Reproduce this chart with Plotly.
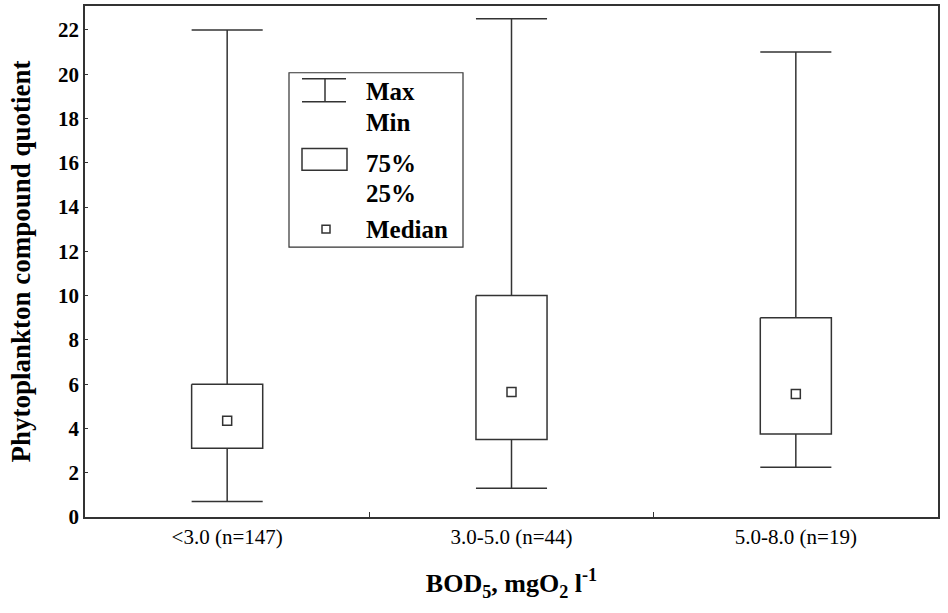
import plotly.graph_objects as go

categories = ["<3.0 (n=147)", "3.0-5.0 (n=44)", "5.0-8.0 (n=19)"]
q_min = [0.7, 1.3, 2.25]
q25 = [3.1, 3.5, 3.75]
median = [4.35, 5.65, 5.55]
q75 = [6.0, 10.0, 9.0]
q_max = [22.0, 22.5, 21.0]
y_ticks = list(range(0, 23, 2))

HALF = 0.125  # half box width in category units
LINE = dict(color="#333333", width=1.5)
SERIF = "Liberation Serif, Times New Roman, serif"

fig = go.Figure()
for i, cat in enumerate(categories):
    l, r = i - HALF, i + HALF
    xs = [l, r, None, i, i, None, l, r, r, l, l, None, i, i, None, l, r]
    ys = [q_max[i], q_max[i], None, q_max[i], q75[i], None,
          q75[i], q75[i], q25[i], q25[i], q75[i], None,
          q25[i], q_min[i], None, q_min[i], q_min[i]]
    fig.add_trace(go.Scatter(x=xs, y=ys, mode="lines", line=LINE,
                             showlegend=False, hoverinfo="skip"))
fig.add_trace(go.Scatter(x=list(range(len(categories))), y=median, mode="markers",
                         marker=dict(symbol="square-open", size=9,
                                     line=dict(color="#333333", width=1.5), color="#333333"),
                         showlegend=False))

fig.update_layout(
    width=948, height=613,
    margin=dict(l=85, r=10, t=4, b=96),
    paper_bgcolor="white", plot_bgcolor="white",
    font=dict(family=SERIF, color="black"),
    xaxis=dict(range=[-0.5, 2.5], tickvals=list(range(len(categories))), ticktext=categories,
               ticks="", showgrid=False, zeroline=False,
               showline=True, mirror=True, linecolor="#333333", linewidth=1.5,
               tickfont=dict(size=21, family=SERIF),
               minor=dict(tickvals=[0.5, 1.5], ticks="inside", ticklen=5,
                          tickcolor="#333333", showgrid=False),
               title=dict(text="BOD<sub>5</sub>, mgO<sub>2</sub> l<sup>-1</sup>",
                          font=dict(size=26, family=SERIF, weight="bold"), standoff=26)),
    yaxis=dict(range=[0, 23.08], tickvals=y_ticks, ticks="inside", ticklen=3,
               tickcolor="#333333", showgrid=False, zeroline=False,
               showline=True, mirror=True, linecolor="#333333", linewidth=1.5,
               tickfont=dict(size=21, family=SERIF, weight="bold"),
               title=dict(text="Phytoplankton compound quotient",
                          font=dict(size=27, family=SERIF, weight="bold"), standoff=20)),
)

# Legend drawn as paper-anchored shapes and annotations
def px(x):
    return (x - 85) / (938 - 85)

def py(y):
    return (517 - y) / (517 - 4)

shape_line = dict(color="#333333", width=1.5)
fig.add_shape(type="rect", xref="paper", yref="paper", x0=px(289), x1=px(463), y0=py(71), y1=py(246),
              line=dict(color="#333333", width=1.2), fillcolor="white", layer="above")
fig.add_shape(type="line", xref="paper", yref="paper", x0=px(302), x1=px(346), y0=py(77), y1=py(77), line=shape_line)
fig.add_shape(type="line", xref="paper", yref="paper", x0=px(302), x1=px(346), y0=py(100), y1=py(100), line=shape_line)
fig.add_shape(type="line", xref="paper", yref="paper", x0=px(325), x1=px(325), y0=py(77), y1=py(100), line=shape_line)
fig.add_shape(type="rect", xref="paper", yref="paper", x0=px(302), x1=px(347), y0=py(147), y1=py(169), line=shape_line)
fig.add_shape(type="rect", xref="paper", yref="paper", x0=px(322), x1=px(330), y0=py(224), y1=py(232), line=shape_line)

for text, y in [("Max", 90), ("Min", 121), ("75%", 162), ("25%", 192), ("Median", 228)]:
    fig.add_annotation(text=text, xref="paper", yref="paper", x=px(364), y=py(y),
                       xanchor="left", yanchor="middle", showarrow=False,
                       font=dict(size=25, family=SERIF, weight="bold", color="black"))

fig.write_html("out.html", config={"displayModeBar": False},
               post_script="document.body.style.margin='0';")
